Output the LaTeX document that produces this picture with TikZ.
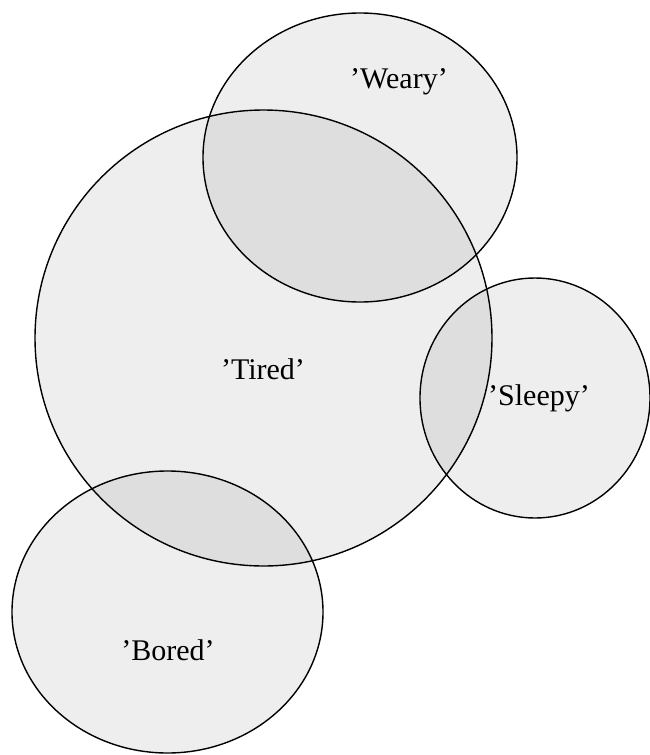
\documentclass[tikz,border=0pt]{standalone}
\usepackage{fontspec}
\setmainfont{Liberation Serif}
\usetikzlibrary{positioning}
\tikzset{
  blob/.style={draw=black, line width=1.4pt, fill=black, fill opacity=0.065},
  word/.style={font=\fontsize{30}{36}\selectfont, inner sep=0pt}
}
\begin{document}
\begin{tikzpicture}[x=1pt, y=-1pt]
    \useasboundingbox (0,0) rectangle (650,755);
    % the four sets
    \path[blob] (263.5,338) ellipse (228.5 and 228);
    \path[blob] (360,157.5) ellipse (157 and 144.5);
    \path[blob] (535,398) ellipse (115 and 120);
    \path[blob] (167.5,612) ellipse (155.5 and 141);
    % labels
    \node[word] (tired) at (263,369) {'Tired'};
    \node[word] (weary) at (399,82) {'Weary'};
    \node[word] (sleepy) at (539,398) {'Sleepy'};
    \node[word] (bored) at (168,650) {'Bored'};
\end{tikzpicture}
\end{document}
